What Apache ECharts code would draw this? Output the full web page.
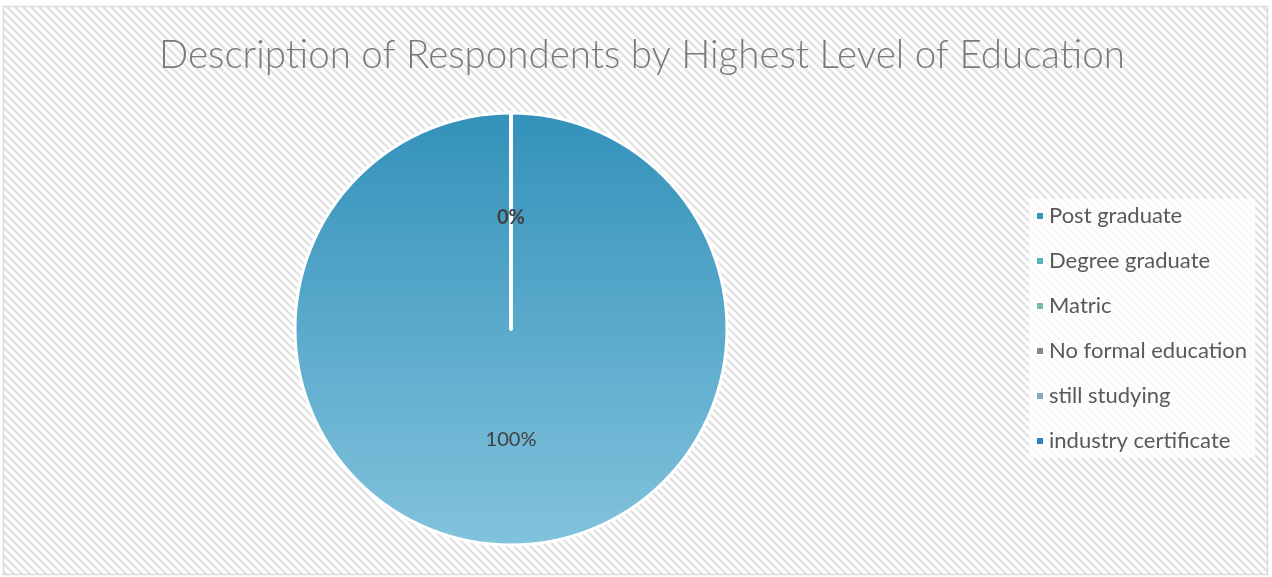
<!DOCTYPE html>
<html>
<head>
<meta charset="utf-8">
<style>
  html, body { margin: 0; padding: 0; background: #ffffff; }
  #chart { width: 1272px; height: 577px; }
</style>
<script src="https://cdn.jsdelivr.net/npm/echarts@6/dist/echarts.min.js"></script>
</head>
<body>
<div id="chart"></div>
<script>
// Education categories and their shares of respondents (%)
const categories = ['Post graduate', 'Degree graduate', 'Matric', 'No formal education', 'still studying', 'industry certificate'];
const shares = [100, 0, 0, 0, 0, 0];
const colors = ['#3494BA', '#58B6C0', '#75BDA7', '#7A8C8E', '#84ACB6', '#2683C6'];
const titleText = 'Description of Respondents by Highest Level of Education';

// Diagonal hatch tile for the chart area background
function hatchTile() {
  const c = document.createElement('canvas');
  c.width = 8; c.height = 8;
  const g = c.getContext('2d');
  g.fillStyle = '#ffffff';
  g.fillRect(0, 0, 8, 8);
  g.strokeStyle = '#e3e3e3';
  g.lineWidth = 2.4;
  g.beginPath();
  g.moveTo(-2, -2); g.lineTo(10, 10);
  g.moveTo(-10, -2); g.lineTo(2, 10);
  g.moveTo(6, -2); g.lineTo(18, 10);
  g.stroke();
  return c;
}

const chart = echarts.init(document.getElementById('chart'), null, { renderer: 'canvas' });

const pieData = categories.map((name, i) => {
  const item = { name: name, value: shares[i], itemStyle: { color: colors[i] } };
  if (i === 0) {
    item.itemStyle.color = {
      type: 'linear', x: 0, y: 0, x2: 0, y2: 1,
      colorStops: [
        { offset: 0, color: '#3391BA' },
        { offset: 1, color: '#82C3DD' }
      ]
    };
  }
  if (shares[i] === 0) {
    // empty slices stack their labels on one spot
    item.label = { fontWeight: 'bold', padding: [10, 0, 0, 0] };
  }
  return item;
});

chart.setOption({
  backgroundColor: '#ffffff',
  animation: false,
  title: {
    text: titleText,
    left: 154,
    top: 31,
    textStyle: {
      fontFamily: 'Lato',
      fontWeight: 300,
      fontSize: 38.5,
      color: '#7a7a7a'
    }
  },
  legend: {
    orient: 'vertical',
    left: 1029,
    top: 199,
    itemWidth: 8,
    itemHeight: 8,
    itemGap: 23,
    icon: 'rect',
    backgroundColor: 'rgba(255,255,255,0.75)',
    padding: [6, 8, 6, 6],
    textStyle: { fontFamily: 'Lato', fontSize: 22, color: '#595959' },
    data: categories.map((name, i) => ({ name: name, itemStyle: { color: colors[i] } }))
  },
  graphic: [
    {
      type: 'rect',
      z: -10,
      silent: true,
      shape: { x: 3.5, y: 6.5, width: 1264, height: 568 },
      style: {
        fill: { image: hatchTile(), repeat: 'repeat' },
        stroke: '#d9d9d9',
        lineWidth: 1.5
      }
    }
  ],
  series: [
    {
      type: 'pie',
      center: [511, 329],
      radius: [0, 216],
      startAngle: 90,
      clockwise: true,
      stillShowZeroSum: true,
      avoidLabelOverlap: false,
      minShowLabelAngle: 0,
      itemStyle: { borderColor: '#ffffff', borderWidth: 3 },
      label: {
        show: true,
        position: 'inside',
        formatter: (p) => p.value + '%',
        fontFamily: 'Lato',
        fontSize: 20,
        color: '#404040'
      },
      labelLine: { show: false },
      emphasis: { disabled: true },
      data: pieData
    }
  ]
});
</script>
</body>
</html>
